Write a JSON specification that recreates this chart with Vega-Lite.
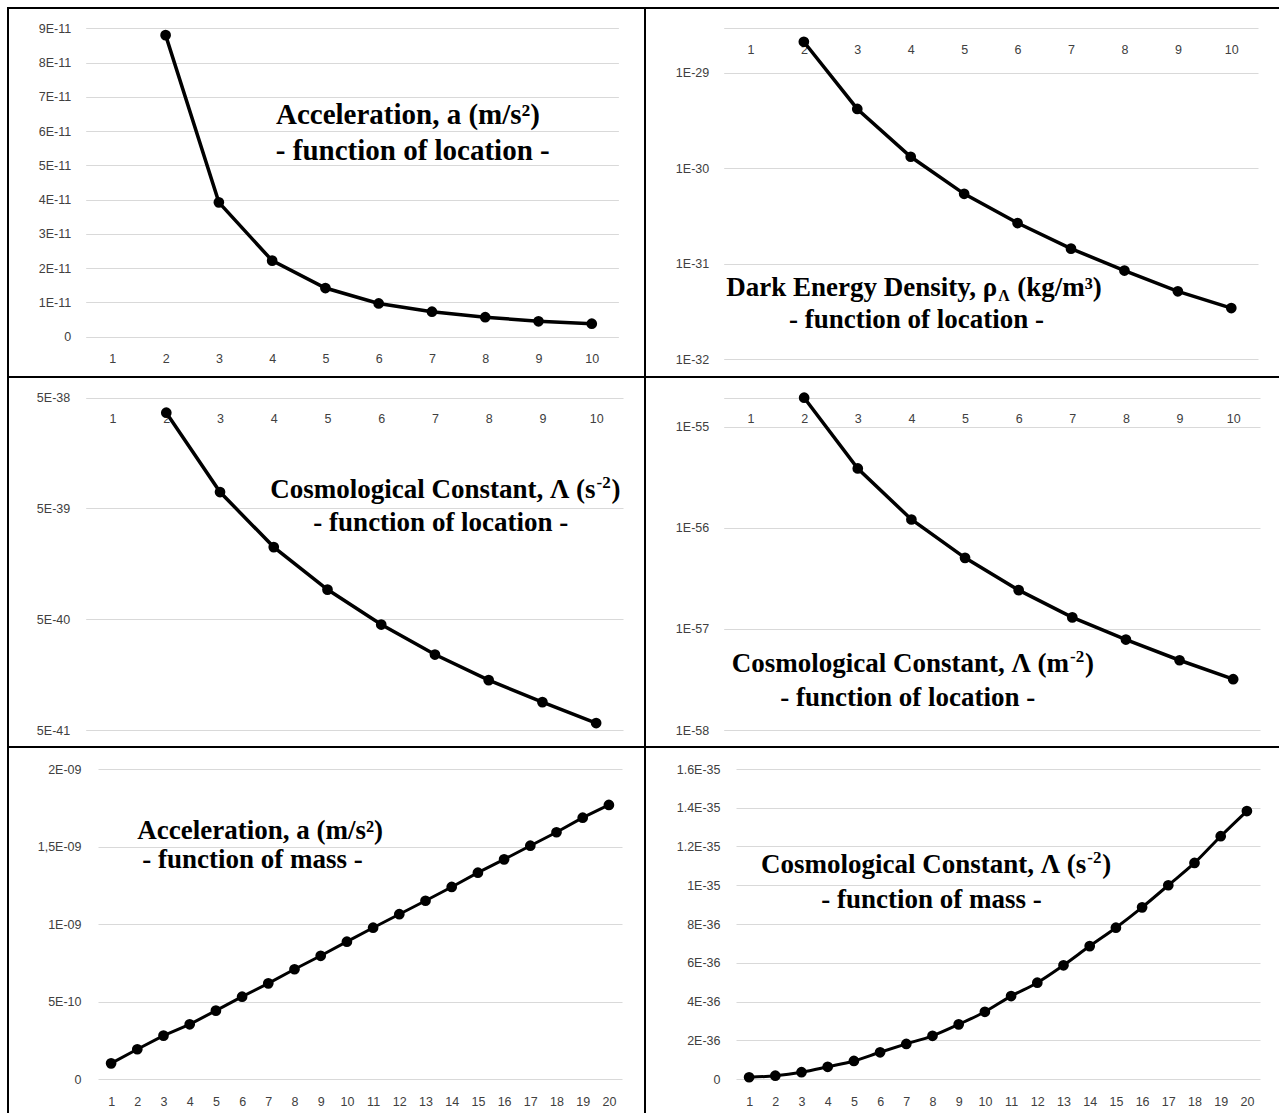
{
  "$schema": "https://vega.github.io/schema/vega-lite/v6.json",
  "background": "white",
  "padding": {"left": 7, "top": 7, "right": 0, "bottom": 0},
  "columns": 2,
  "spacing": 0,
  "bounds": "flush",
  "align": "each",
  "config": {
    "view": {"stroke": null},
    "axis": {
      "labelFont": "Liberation Sans",
      "labelFontSize": 12.5,
      "labelColor": "#404040",
      "gridColor": "#d9d9d9",
      "gridWidth": 1,
      "domain": false,
      "ticks": false,
      "tickSize": 0,
      "title": null,
      "labelFlush": false,
      "labelOverlap": false,
      "labelBound": false
    }
  },
  "concat": [
    {
      "width": 637,
      "height": 369,
      "view": {"stroke": "black", "strokeWidth": 2, "strokeDash": [637, 1006, 369]},
      "layer": [
        {
          "data": {"values": [
            {"n": 2, "value": 8.8e-11},
            {"n": 3, "value": 3.92e-11},
            {"n": 4, "value": 2.22e-11},
            {"n": 5, "value": 1.42e-11},
            {"n": 6, "value": 0.97e-11},
            {"n": 7, "value": 0.73e-11},
            {"n": 8, "value": 0.57e-11},
            {"n": 9, "value": 0.45e-11},
            {"n": 10, "value": 0.38e-11}
          ]},
          "encoding": {
            "x": {"field": "n", "type": "quantitative",
              "scale": {"domain": [0.5, 10.5], "range": [77.7, 610.4], "nice": false, "zero": false},
              "axis": {"orient": "bottom", "offset": -40.3, "values": [1,2,3,4,5,6,7,8,9,10], "format": "d", "grid": false, "labelPadding": 21.3, "labelBaseline": "middle", "labelOverlap": false, "title": null}},
            "y": {"field": "value", "type": "quantitative",
              "scale": {"domain": [0, 9e-11], "range": [328.7, 20.3], "nice": false, "zero": false},
              "axis": {"orient": "left", "offset": -77.7, "values": [0, 1e-11, 2e-11, 3e-11, 4e-11, 5e-11, 6e-11, 7e-11, 8e-11, 9e-11], "grid": true, "labelPadding": 15, "labelOverlap": false, "title": null,
                "labelExpr": "datum.value < 1e-13 ? '0' : round(datum.value*1e11) + 'E-11'"}}
          },
          "layer": [
            {"mark": {"type": "line", "color": "black", "strokeWidth": 3.5}},
            {"mark": {"type": "point", "filled": true, "size": 115, "color": "black", "opacity": 1}}
          ]
        },
        {"data": {"values": [{"label": "Acceleration, a (m/s²)"}]}, "mark": {"type": "text", "font": "Liberation Serif", "fontWeight": "bold", "color": "black", "fontSize": 29, "align": "center", "baseline": "alphabetic"},
          "encoding": {"x": {"datum": 6.55, "axis": {"orient": "bottom", "offset": -40.3, "values": [1,2,3,4,5,6,7,8,9,10], "format": "d", "grid": false, "labelPadding": 21.3, "labelBaseline": "middle", "labelOverlap": false, "title": null}}, "y": {"datum": 6.21e-11}, "text": {"field": "label"}}},
        {"data": {"values": [{"label": "- function of location -"}]}, "mark": {"type": "text", "font": "Liberation Serif", "fontWeight": "bold", "color": "black", "fontSize": 29, "align": "center", "baseline": "alphabetic"},
          "encoding": {"x": {"datum": 6.64, "axis": {"orient": "bottom", "offset": -40.3, "values": [1,2,3,4,5,6,7,8,9,10], "format": "d", "grid": false, "labelPadding": 21.3, "labelBaseline": "middle", "labelOverlap": false, "title": null}}, "y": {"datum": 5.16e-11}, "text": {"field": "label"}}}
      ]
    },
    {
      "width": 634,
      "height": 369,
      "view": {"stroke": "black", "strokeWidth": 2, "strokeDash": [634, 1003, 369]},
      "layer": [
        {
          "data": {"values": [
            {"n": 2, "value": 2.11e-29},
            {"n": 3, "value": 4.18e-30},
            {"n": 4, "value": 1.32e-30},
            {"n": 5, "value": 5.4e-31},
            {"n": 6, "value": 2.67e-31},
            {"n": 7, "value": 1.44e-31},
            {"n": 8, "value": 8.5e-32},
            {"n": 9, "value": 5.15e-32},
            {"n": 10, "value": 3.44e-32}
          ]},
          "encoding": {
            "x": {"field": "n", "type": "quantitative",
              "scale": {"domain": [0.5, 10.5], "range": [78.7, 613], "nice": false, "zero": false},
              "axis": {"orient": "bottom", "offset": -348.7, "values": [1,2,3,4,5,6,7,8,9,10], "format": "d", "grid": false, "labelPadding": 20.7, "labelBaseline": "middle", "labelOverlap": false, "title": null}},
            "y": {"field": "value", "type": "quantitative",
              "scale": {"type": "log", "domain": [1e-32, 2.92e-29], "range": [351.3, 20.3], "nice": false, "zero": false},
              "axis": {"orient": "left", "offset": -78.7, "values": [1e-32, 1e-31, 1e-30, 1e-29, 2.92e-29], "grid": true, "labelPadding": 15, "labelOverlap": false, "title": null,
                "labelExpr": "datum.value > 2e-29 ? '' : '1E' + round(log(datum.value)/LN10)"}}
          },
          "layer": [
            {"mark": {"type": "line", "color": "black", "strokeWidth": 3.5}},
            {"mark": {"type": "point", "filled": true, "size": 115, "color": "black", "opacity": 1}}
          ]
        },
        {"data": {"values": [{"label": "Dark Energy Density, ρ"}]}, "mark": {"type": "text", "font": "Liberation Serif", "fontWeight": "bold", "color": "black", "fontSize": 27, "align": "right", "baseline": "alphabetic"},
          "encoding": {"x": {"datum": 5.62}, "y": {"datum": 4.6e-32}, "text": {"field": "label"}}},
        {"data": {"values": [{"label": "Λ"}]}, "mark": {"type": "text", "font": "Liberation Serif", "fontWeight": "bold", "color": "black", "fontSize": 16, "align": "left", "baseline": "alphabetic", "dx": 1, "dy": 5},
          "encoding": {"x": {"datum": 5.62}, "y": {"datum": 4.6e-32}, "text": {"field": "label"}}},
        {"data": {"values": [{"label": "(kg/m³)"}]}, "mark": {"type": "text", "font": "Liberation Serif", "fontWeight": "bold", "color": "black", "fontSize": 27, "align": "left", "baseline": "alphabetic", "dx": 20},
          "encoding": {"x": {"datum": 5.62}, "y": {"datum": 4.6e-32}, "text": {"field": "label"}}},
        {"data": {"values": [{"label": "- function of location -"}]}, "mark": {"type": "text", "font": "Liberation Serif", "fontWeight": "bold", "color": "black", "fontSize": 27, "align": "center", "baseline": "alphabetic"},
          "encoding": {"x": {"datum": 4.11}, "y": {"datum": 2.12e-32}, "text": {"field": "label"}}}
      ]
    },
    {
      "width": 637,
      "height": 370,
      "view": {"stroke": "black", "strokeWidth": 2, "strokeDash": [637, 1007, 370]},
      "layer": [
        {
          "data": {"values": [
            {"n": 2, "value": 3.66e-38},
            {"n": 3, "value": 7.03e-39},
            {"n": 4, "value": 2.24e-39},
            {"n": 5, "value": 9.26e-40},
            {"n": 6, "value": 4.48e-40},
            {"n": 7, "value": 2.40e-40},
            {"n": 8, "value": 1.41e-40},
            {"n": 9, "value": 8.93e-41},
            {"n": 10, "value": 5.78e-41}
          ]},
          "encoding": {
            "x": {"field": "n", "type": "quantitative",
              "scale": {"domain": [0.5, 10.5], "range": [77.7, 615], "nice": false, "zero": false},
              "axis": {"orient": "bottom", "offset": -349.3, "values": [1,2,3,4,5,6,7,8,9,10], "format": "d", "grid": false, "labelPadding": 20.6, "labelBaseline": "middle", "labelOverlap": false, "title": null}},
            "y": {"field": "value", "type": "quantitative",
              "scale": {"type": "log", "domain": [5e-41, 5e-38], "range": [353, 20.7], "nice": false, "zero": false},
              "axis": {"orient": "left", "offset": -77.7, "values": [5e-41, 5e-40, 5e-39, 5e-38], "grid": true, "labelPadding": 16, "labelOverlap": false, "title": null,
                "labelExpr": "'5E' + round(log(datum.value/5)/LN10)"}}
          },
          "layer": [
            {"mark": {"type": "line", "color": "black", "strokeWidth": 3.5}},
            {"mark": {"type": "point", "filled": true, "size": 115, "color": "black", "opacity": 1}}
          ]
        },
        {"data": {"values": [{"label": "Cosmological Constant, Λ (s"}]}, "mark": {"type": "text", "font": "Liberation Serif", "fontWeight": "bold", "color": "black", "fontSize": 27, "align": "right", "baseline": "alphabetic"},
          "encoding": {"x": {"datum": 9.99}, "y": {"datum": 6.18e-39}, "text": {"field": "label"}}},
        {"data": {"values": [{"label": "-2"}]}, "mark": {"type": "text", "font": "Liberation Serif", "fontWeight": "bold", "color": "black", "fontSize": 17, "align": "left", "baseline": "alphabetic", "dx": 1, "dy": -10},
          "encoding": {"x": {"datum": 9.99}, "y": {"datum": 6.18e-39}, "text": {"field": "label"}}},
        {"data": {"values": [{"label": ")"}]}, "mark": {"type": "text", "font": "Liberation Serif", "fontWeight": "bold", "color": "black", "fontSize": 27, "align": "left", "baseline": "alphabetic", "dx": 16},
          "encoding": {"x": {"datum": 9.99}, "y": {"datum": 6.18e-39}, "text": {"field": "label"}}},
        {"data": {"values": [{"label": "- function of location -"}]}, "mark": {"type": "text", "font": "Liberation Serif", "fontWeight": "bold", "color": "black", "fontSize": 27, "align": "center", "baseline": "alphabetic"},
          "encoding": {"x": {"datum": 7.11}, "y": {"datum": 3.13e-39}, "text": {"field": "label"}}}
      ]
    },
    {
      "width": 634,
      "height": 370,
      "view": {"stroke": "black", "strokeWidth": 2, "strokeDash": [634, 1004, 370]},
      "layer": [
        {
          "data": {"values": [
            {"n": 2, "value": 1.94e-55},
            {"n": 3, "value": 3.87e-56},
            {"n": 4, "value": 1.21e-56},
            {"n": 5, "value": 5.05e-57},
            {"n": 6, "value": 2.42e-57},
            {"n": 7, "value": 1.30e-57},
            {"n": 8, "value": 7.85e-58},
            {"n": 9, "value": 4.9e-58},
            {"n": 10, "value": 3.18e-58}
          ]},
          "encoding": {
            "x": {"field": "n", "type": "quantitative",
              "scale": {"domain": [0.5, 10.5], "range": [78.7, 615], "nice": false, "zero": false},
              "axis": {"orient": "bottom", "offset": -349.3, "values": [1,2,3,4,5,6,7,8,9,10], "format": "d", "grid": false, "labelPadding": 20.6, "labelBaseline": "middle", "labelOverlap": false, "title": null}},
            "y": {"field": "value", "type": "quantitative",
              "scale": {"type": "log", "domain": [1e-58, 1.94e-55], "range": [353, 20.7], "nice": false, "zero": false},
              "axis": {"orient": "left", "offset": -78.7, "values": [1e-58, 1e-57, 1e-56, 1e-55, 1.94e-55], "grid": true, "labelPadding": 15, "labelOverlap": false, "title": null,
                "labelExpr": "datum.value > 1.5e-55 ? '' : '1E' + round(log(datum.value)/LN10)"}}
          },
          "layer": [
            {"mark": {"type": "line", "color": "black", "strokeWidth": 3.5}},
            {"mark": {"type": "point", "filled": true, "size": 115, "color": "black", "opacity": 1}}
          ]
        },
        {"data": {"values": [{"label": "Cosmological Constant, Λ (m"}]}, "mark": {"type": "text", "font": "Liberation Serif", "fontWeight": "bold", "color": "black", "fontSize": 27, "align": "right", "baseline": "alphabetic"},
          "encoding": {"x": {"datum": 6.94}, "y": {"datum": 3.72e-58}, "text": {"field": "label"}}},
        {"data": {"values": [{"label": "-2"}]}, "mark": {"type": "text", "font": "Liberation Serif", "fontWeight": "bold", "color": "black", "fontSize": 17, "align": "left", "baseline": "alphabetic", "dx": 1, "dy": -10},
          "encoding": {"x": {"datum": 6.94}, "y": {"datum": 3.72e-58}, "text": {"field": "label"}}},
        {"data": {"values": [{"label": ")"}]}, "mark": {"type": "text", "font": "Liberation Serif", "fontWeight": "bold", "color": "black", "fontSize": 27, "align": "left", "baseline": "alphabetic", "dx": 16},
          "encoding": {"x": {"datum": 6.94}, "y": {"datum": 3.72e-58}, "text": {"field": "label"}}},
        {"data": {"values": [{"label": "- function of location -"}]}, "mark": {"type": "text", "font": "Liberation Serif", "fontWeight": "bold", "color": "black", "fontSize": 27, "align": "center", "baseline": "alphabetic"},
          "encoding": {"x": {"datum": 3.93}, "y": {"datum": 1.71e-58}, "text": {"field": "label"}}}
      ]
    },
    {
      "width": 637,
      "height": 366,
      "view": {"stroke": "black", "strokeWidth": 2, "strokeDash": [637, 1003, 366]},
      "layer": [
        {
          "data": {"values": [
            {"n": 1, "value": 1.01e-10},
            {"n": 2, "value": 1.92e-10},
            {"n": 3, "value": 2.80e-10},
            {"n": 4, "value": 3.53e-10},
            {"n": 5, "value": 4.41e-10},
            {"n": 6, "value": 5.31e-10},
            {"n": 7, "value": 6.17e-10},
            {"n": 8, "value": 7.08e-10},
            {"n": 9, "value": 7.95e-10},
            {"n": 10, "value": 8.86e-10},
            {"n": 11, "value": 9.76e-10},
            {"n": 12, "value": 1.063e-9},
            {"n": 13, "value": 1.150e-9},
            {"n": 14, "value": 1.239e-9},
            {"n": 15, "value": 1.331e-9},
            {"n": 16, "value": 1.417e-9},
            {"n": 17, "value": 1.505e-9},
            {"n": 18, "value": 1.592e-9},
            {"n": 19, "value": 1.686e-9},
            {"n": 20, "value": 1.768e-9}
          ]},
          "encoding": {
            "x": {"field": "n", "type": "quantitative",
              "scale": {"domain": [0.5, 20.5], "range": [90, 614], "nice": false, "zero": false},
              "axis": {"orient": "bottom", "offset": -34, "values": [1,2,3,4,5,6,7,8,9,10,11,12,13,14,15,16,17,18,19,20], "format": "d", "grid": false, "labelPadding": 22.7, "labelBaseline": "middle", "labelOverlap": false, "title": null}},
            "y": {"field": "value", "type": "quantitative",
              "scale": {"domain": [0, 2e-9], "range": [332, 22], "nice": false, "zero": false},
              "axis": {"orient": "left", "offset": -90, "values": [0, 5e-10, 1e-9, 1.5e-9, 2e-9], "grid": true, "labelPadding": 17, "labelOverlap": false, "title": null,
                "labelExpr": "datum.value < 1e-12 ? '0' : datum.value < 6e-10 ? '5E-10' : datum.value < 1.2e-9 ? '1E-09' : datum.value < 1.7e-9 ? '1,5E-09' : '2E-09'"}}
          },
          "layer": [
            {"mark": {"type": "line", "color": "black", "strokeWidth": 3}},
            {"mark": {"type": "point", "filled": true, "size": 115, "color": "black", "opacity": 1}}
          ]
        },
        {"data": {"values": [{"label": "Acceleration, a (m/s²)"}]}, "mark": {"type": "text", "font": "Liberation Serif", "fontWeight": "bold", "color": "black", "fontSize": 27, "align": "center", "baseline": "alphabetic"},
          "encoding": {"x": {"datum": 6.69, "axis": {"orient": "bottom", "offset": -34, "values": [1,2,3,4,5,6,7,8,9,10,11,12,13,14,15,16,17,18,19,20], "format": "d", "grid": false, "labelPadding": 22.7, "labelBaseline": "middle", "labelOverlap": false, "title": null}}, "y": {"datum": 1.546e-9}, "text": {"field": "label"}}},
        {"data": {"values": [{"label": "- function of mass -"}]}, "mark": {"type": "text", "font": "Liberation Serif", "fontWeight": "bold", "color": "black", "fontSize": 27, "align": "center", "baseline": "alphabetic"},
          "encoding": {"x": {"datum": 6.40, "axis": {"orient": "bottom", "offset": -34, "values": [1,2,3,4,5,6,7,8,9,10,11,12,13,14,15,16,17,18,19,20], "format": "d", "grid": false, "labelPadding": 22.7, "labelBaseline": "middle", "labelOverlap": false, "title": null}}, "y": {"datum": 1.359e-9}, "text": {"field": "label"}}}
      ]
    },
    {
      "width": 634,
      "height": 366,
      "view": {"stroke": "black", "strokeWidth": 2, "strokeDash": [634, 1000, 366]},
      "layer": [
        {
          "data": {"values": [
            {"n": 1, "value": 0.9e-37},
            {"n": 2, "value": 1.7e-37},
            {"n": 3, "value": 3.5e-37},
            {"n": 4, "value": 6.3e-37},
            {"n": 5, "value": 9.3e-37},
            {"n": 6, "value": 1.38e-36},
            {"n": 7, "value": 1.81e-36},
            {"n": 8, "value": 2.23e-36},
            {"n": 9, "value": 2.82e-36},
            {"n": 10, "value": 3.47e-36},
            {"n": 11, "value": 4.28e-36},
            {"n": 12, "value": 4.97e-36},
            {"n": 13, "value": 5.87e-36},
            {"n": 14, "value": 6.86e-36},
            {"n": 15, "value": 7.81e-36},
            {"n": 16, "value": 8.86e-36},
            {"n": 17, "value": 1.0e-35},
            {"n": 18, "value": 1.115e-35},
            {"n": 19, "value": 1.253e-35},
            {"n": 20, "value": 1.383e-35}
          ]},
          "encoding": {
            "x": {"field": "n", "type": "quantitative",
              "scale": {"domain": [0.5, 20.5], "range": [91, 615], "nice": false, "zero": false},
              "axis": {"orient": "bottom", "offset": -34, "values": [1,2,3,4,5,6,7,8,9,10,11,12,13,14,15,16,17,18,19,20], "format": "d", "grid": false, "labelPadding": 22.7, "labelBaseline": "middle", "labelOverlap": false, "title": null}},
            "y": {"field": "value", "type": "quantitative",
              "scale": {"domain": [0, 1.6e-35], "range": [332, 22], "nice": false, "zero": false},
              "axis": {"orient": "left", "offset": -91, "values": [0, 2e-36, 4e-36, 6e-36, 8e-36, 1e-35, 1.2e-35, 1.4e-35, 1.6e-35], "grid": true, "labelPadding": 16, "labelOverlap": false, "title": null,
                "labelExpr": "datum.value < 1e-40 ? '0' : datum.value >= 9.9e-36 ? (round(datum.value*1e36)/10) + 'E-35' : round(datum.value*1e36) + 'E-36'"}}
          },
          "layer": [
            {"mark": {"type": "line", "color": "black", "strokeWidth": 3, "interpolate": "monotone"}},
            {"mark": {"type": "point", "filled": true, "size": 115, "color": "black", "opacity": 1}}
          ]
        },
        {"data": {"values": [{"label": "Cosmological Constant, Λ (s"}]}, "mark": {"type": "text", "font": "Liberation Serif", "fontWeight": "bold", "color": "black", "fontSize": 27, "align": "right", "baseline": "alphabetic"},
          "encoding": {"x": {"datum": 13.87, "axis": {"orient": "bottom", "offset": -34, "values": [1,2,3,4,5,6,7,8,9,10,11,12,13,14,15,16,17,18,19,20], "format": "d", "grid": false, "labelPadding": 22.7, "labelBaseline": "middle", "labelOverlap": false, "title": null}}, "y": {"datum": 1.062e-35}, "text": {"field": "label"}}},
        {"data": {"values": [{"label": "-2"}]}, "mark": {"type": "text", "font": "Liberation Serif", "fontWeight": "bold", "color": "black", "fontSize": 17, "align": "left", "baseline": "alphabetic", "dx": 1, "dy": -10},
          "encoding": {"x": {"datum": 13.87, "axis": {"orient": "bottom", "offset": -34, "values": [1,2,3,4,5,6,7,8,9,10,11,12,13,14,15,16,17,18,19,20], "format": "d", "grid": false, "labelPadding": 22.7, "labelBaseline": "middle", "labelOverlap": false, "title": null}}, "y": {"datum": 1.062e-35}, "text": {"field": "label"}}},
        {"data": {"values": [{"label": ")"}]}, "mark": {"type": "text", "font": "Liberation Serif", "fontWeight": "bold", "color": "black", "fontSize": 27, "align": "left", "baseline": "alphabetic", "dx": 16},
          "encoding": {"x": {"datum": 13.87, "axis": {"orient": "bottom", "offset": -34, "values": [1,2,3,4,5,6,7,8,9,10,11,12,13,14,15,16,17,18,19,20], "format": "d", "grid": false, "labelPadding": 22.7, "labelBaseline": "middle", "labelOverlap": false, "title": null}}, "y": {"datum": 1.062e-35}, "text": {"field": "label"}}},
        {"data": {"values": [{"label": "- function of mass -"}]}, "mark": {"type": "text", "font": "Liberation Serif", "fontWeight": "bold", "color": "black", "fontSize": 27, "align": "center", "baseline": "alphabetic"},
          "encoding": {"x": {"datum": 7.96, "axis": {"orient": "bottom", "offset": -34, "values": [1,2,3,4,5,6,7,8,9,10,11,12,13,14,15,16,17,18,19,20], "format": "d", "grid": false, "labelPadding": 22.7, "labelBaseline": "middle", "labelOverlap": false, "title": null}}, "y": {"datum": 0.881e-35}, "text": {"field": "label"}}}
      ]
    }
  ]
}
